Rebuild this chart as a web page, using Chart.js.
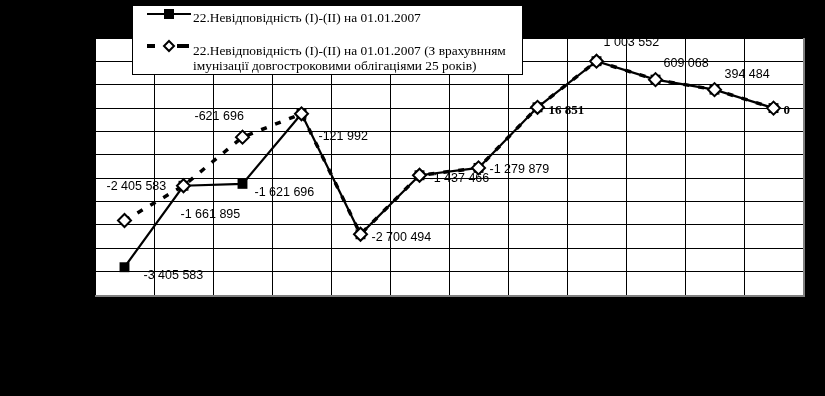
<!DOCTYPE html>
<html>
<head>
<meta charset="utf-8">
<script src="https://cdn.jsdelivr.net/npm/chart.js@4.4.0/dist/chart.umd.min.js"></script>
<style>
  body { margin: 0; background: #000; }
  canvas { display: block; }
</style>
</head>
<body>
<canvas id="chart" width="825" height="396"></canvas>
<script>
// categories (no axis labels are printed in the source picture)
const categories = ["1", "2", "3", "4", "5", "6", "7", "8", "9", "10", "11", "12"];

// 22.Невідповідність (I)-(II) на 01.01.2007
const gapValues = [-3405583, -1661895, -1621696, -121992, -2700494, -1437466, -1279879, 16851, 1003552, 609068, 394484, 0];
// ... з врахуванням імунізації облігаціями 25 років
const gapImmunized = [-2405583, -1661895, -621696, -121992, -2700494, -1437466, -1279879, 16851, 1003552, 609068, 394484, 0];

const seriesNames = [
  "22.Невідповідність (I)-(II) на 01.01.2007",
  "22.Невідповідність (I)-(II) на 01.01.2007 (З врахувнням імунізації довгостроковими облігаціями 25 років)"
];

const yMin = -4000000;
const yMax = 1500000;
const yStep = 500000;

// which labels are shown and where (offset from the point), bold flag
const gapLabelOffsets = [[19, 8], null, [12, 9], null, null, null, null, null, null, null, null, null];
const immLabelOffsets = [[-18, -34], [-3, 29], [-48, -21], [17, 23], [11, 3], [10, 3], [11, 2], [11, 3], [7, -19], [8, -16], [10, -15], [10, 3]];
const boldLabels = [7, 11];

function fmt(n) {
  const s = Math.abs(n).toString().replace(/\B(?=(\d{3})+(?!\d))/g, " ");
  return (n < 0 ? "-" : "") + s;
}

const plotBg = {
  id: "plotBg",
  beforeDraw(chart) {
    const { ctx, chartArea: a } = chart;
    ctx.save();
    ctx.fillStyle = "#fff";
    ctx.fillRect(a.left, a.top, a.right - a.left, a.bottom - a.top);
    ctx.restore();
  },
  afterDraw(chart) {
    const { ctx, chartArea: a } = chart;
    ctx.save();
    ctx.strokeStyle = "#808080";
    ctx.lineWidth = 2;
    ctx.beginPath();
    ctx.moveTo(a.left, a.bottom + 1);
    ctx.lineTo(a.right + 1, a.bottom + 1);
    ctx.lineTo(a.right + 1, a.top);
    ctx.stroke();
    ctx.restore();
  }
};

const pointLabels = {
  id: "pointLabels",
  afterDatasetsDraw(chart) {
    const { ctx, chartArea: a } = chart;
    ctx.save();
    ctx.beginPath();
    ctx.rect(a.left, a.top, a.right - a.left, a.bottom - a.top);
    ctx.clip();
    ctx.fillStyle = "#000";
    ctx.textBaseline = "middle";
    ctx.textAlign = "left";
    const sets = [[gapValues, gapLabelOffsets, 1], [gapImmunized, immLabelOffsets, 0]];
    sets.forEach(([vals, offs, dsIndex]) => {
      const meta = chart.getDatasetMeta(dsIndex);
      vals.forEach((v, i) => {
        const o = offs[i];
        if (!o) return;
        const p = meta.data[i];
        const bold = dsIndex === 0 && boldLabels.includes(i);
        ctx.font = bold ? "bold 13px 'Liberation Serif'" : "12.5px 'Liberation Sans'";
        ctx.fillText(fmt(v), p.x + o[0], p.y + o[1]);
      });
    });
    ctx.restore();
  }
};

const legendBox = {
  id: "legendBox",
  afterDraw(chart) {
    const ctx = chart.ctx;
    ctx.save();
    ctx.fillStyle = "#fff";
    ctx.fillRect(132, 5, 390, 69);
    ctx.strokeStyle = "#000";
    ctx.lineWidth = 1;
    ctx.strokeRect(132.5, 5.5, 390, 69);

    // item 1: solid line with filled square
    ctx.lineWidth = 2;
    ctx.beginPath();
    ctx.moveTo(147, 14);
    ctx.lineTo(191, 14);
    ctx.stroke();
    ctx.fillStyle = "#000";
    ctx.fillRect(164, 9, 10, 10);

    // item 2: dashes with hollow diamond
    ctx.fillRect(147, 44, 8, 4);
    ctx.fillRect(177, 44, 12, 4);
    ctx.beginPath();
    ctx.moveTo(169, 41);
    ctx.lineTo(174, 46);
    ctx.lineTo(169, 51);
    ctx.lineTo(164, 46);
    ctx.closePath();
    ctx.fillStyle = "#fff";
    ctx.fill();
    ctx.lineWidth = 2;
    ctx.stroke();

    ctx.fillStyle = "#000";
    ctx.font = "13.4px 'Liberation Serif'";
    ctx.textBaseline = "middle";
    ctx.fillText(seriesNames[0], 193, 18);
    ctx.fillText("22.Невідповідність (I)-(II) на 01.01.2007 (З врахувнням", 193, 51);
    ctx.fillText("імунізації довгостроковими облігаціями 25 років)", 193, 66);
    ctx.restore();
  }
};

new Chart(document.getElementById("chart"), {
  type: "line",
  data: {
    labels: categories,
    datasets: [
      {
        label: seriesNames[1],
        data: gapImmunized,
        borderColor: "#000",
        borderWidth: 3.5,
        borderDash: [6, 9],
        pointStyle: "rectRot",
        pointRadius: 6.5,
        pointBackgroundColor: "#fff",
        pointBorderColor: "#000",
        pointBorderWidth: 2,
        tension: 0
      },
      {
        label: seriesNames[0],
        data: gapValues,
        borderColor: "#000",
        borderWidth: 2.2,
        pointStyle: "rect",
        pointRadius: 7,
        pointBackgroundColor: "#000",
        pointBorderColor: "#000",
        pointBorderWidth: 0,
        tension: 0
      }
    ]
  },
  options: {
    responsive: false,
    animation: false,
    devicePixelRatio: 1,
    layout: { padding: { left: 95, right: 22, top: 38, bottom: 101 } },
    plugins: {
      legend: { display: false },
      tooltip: { enabled: false }
    },
    scales: {
      x: {
        offset: true,
        grid: { offset: true, color: "#000", lineWidth: 1, drawTicks: false },
        border: { color: "#000" },
        ticks: { display: false }
      },
      y: {
        min: yMin,
        max: yMax,
        ticks: { display: false, stepSize: yStep },
        grid: { color: "#000", lineWidth: 1, drawTicks: false },
        border: { color: "#000" }
      }
    }
  },
  plugins: [plotBg, pointLabels, legendBox]
});
</script>
</body>
</html>
